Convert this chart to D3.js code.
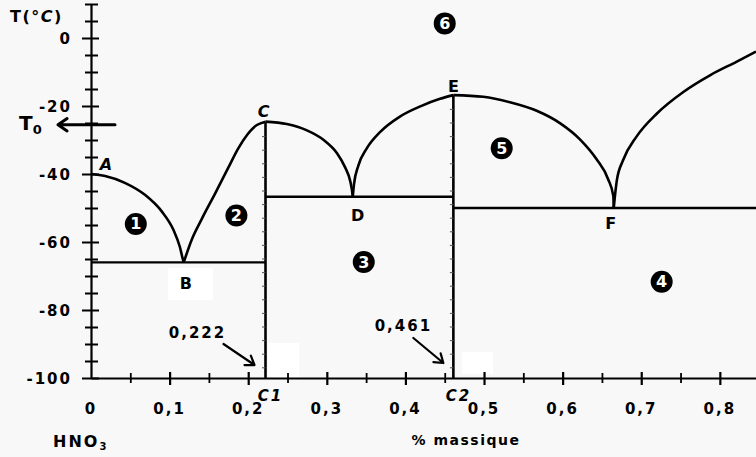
<!DOCTYPE html>
<html>
<head>
<meta charset="utf-8">
<script src="https://cdn.jsdelivr.net/npm/d3@7"></script>
<style>
  html, body { margin: 0; padding: 0; background: #f8f8f8; }
  svg { display: block; }
  text { font-family: "DejaVu Sans", sans-serif; font-weight: bold; fill: #000; }
</style>
</head>
<body>
<svg id="chart" width="756" height="457"></svg>
<script>
// Phase diagram HNO3 – H2O : liquidus branches, eutectic plateaus, compounds C1 and C2

// axis ticks
const xTickValues = [0, 0.1, 0.2, 0.3, 0.4, 0.5, 0.6, 0.7, 0.8];
const xTickLabels = ["0", "0,1", "0,2", "0,3", "0,4", "0,5", "0,6", "0,7", "0,8"];
const yTickValues = [0, -20, -40, -60, -80, -100];
const yTickLabels = ["0", "-20", "-40", "-60", "-80", "-100"];

// liquidus branches [mass fraction, T in °C]
const branchAB = [[0, -40], [0.018, -40.6], [0.043, -42.6], [0.069, -46.2], [0.090, -51.0],
                  [0.105, -56.5], [0.113, -61.4], [0.117, -65.2], [0.118, -66]];
const branchBC = [[0.118, -66], [0.120, -64.6], [0.128, -59.4], [0.141, -53.2], [0.158, -45.7],
                  [0.175, -38.0], [0.187, -32.6], [0.199, -28.4], [0.211, -25.6], [0.222, -24.6]];
const branchCD = [[0.222, -24.6], [0.249, -25.3], [0.274, -27.1], [0.296, -30.0], [0.313, -33.9],
                  [0.323, -37.9], [0.330, -42.3], [0.3325, -45.6], [0.333, -46.7]];
const branchDE = [[0.333, -46.7], [0.3346, -43.0], [0.340, -37.6], [0.351, -32.4], [0.368, -27.6],
                  [0.393, -23.1], [0.419, -20.1], [0.444, -17.9], [0.461, -16.8]];
const branchEF = [[0.461, -16.8], [0.499, -17.3], [0.533, -18.9], [0.567, -21.4], [0.597, -25.1],
                  [0.622, -29.8], [0.643, -35.6], [0.658, -41.6], [0.6645, -46.5], [0.665, -50]];
const branchFG = [[0.665, -50], [0.669, -41.8], [0.677, -35.9], [0.694, -29.0], [0.720, -22.2],
                  [0.754, -15.8], [0.788, -10.9], [0.821, -7.0], [0.846, -4.0]];

// eutectic plateaus [x start, x end, T]
const plateaus = [[0, 0.222, -66], [0.222, 0.461, -46.7], [0.461, 0.846, -50]];

// defined compounds [name, composition, melting point]
const compounds = [["C1", 0.222, -24.6], ["C2", 0.461, -16.8]];
const compoundValues = ["0,222", "0,461"];

// remarkable points [label, x, T]
const points = [["A", 0, -40], ["B", 0.118, -66], ["C", 0.222, -24.6],
                ["D", 0.333, -46.7], ["E", 0.461, -16.8], ["F", 0.665, -50]];

// region numbers [n, x, T]
const regions = [[1, 0.057, -54.7], [2, 0.185, -52.2], [3, 0.347, -65.9],
                 [4, 0.726, -71.7], [5, 0.5225, -32.4], [6, 0.450, 4.3]];

// temperature marked T0
const T0 = -25.5;

const svg = d3.select("#chart");
const x = d3.scaleLinear().domain([0, 0.846]).range([91, 756]);
const y = d3.scaleLinear().domain([-100, 10]).range([378, 4]);

// light erased patches of the background
[[168, 268, 45, 32], [268, 343, 31, 35], [462, 352, 31, 22]].forEach(r =>
  svg.append("rect").attr("x", r[0]).attr("y", r[1]).attr("width", r[2]).attr("height", r[3])
     .attr("fill", "#ffffff"));

// ---- axes ----
const yAxis = d3.axisLeft(y).tickValues(d3.range(-100, 10.01, 5)).tickSize(0).tickFormat("");
const gy = svg.append("g").attr("transform", `translate(${x(0)},0)`).call(yAxis);
gy.select(".domain").attr("stroke", "#000").attr("stroke-width", 2.2);
gy.selectAll(".tick").append("line")
  .attr("x1", d => d % 20 === 0 ? -9 : -6)
  .attr("x2", d => d % 20 === 0 ? 8 : 7)
  .attr("stroke", "#000").attr("stroke-width", 2);

const xAxis = d3.axisBottom(x).tickValues(d3.range(0.05, 0.846, 0.05)).tickSize(0).tickFormat("");
const gx = svg.append("g").attr("transform", `translate(0,${y(-100)})`).call(xAxis);
gx.select(".domain").attr("stroke", "#000").attr("stroke-width", 2.2);
gx.selectAll(".tick").append("line")
  .attr("y1", (d, i) => i % 2 === 1 ? -6 : -5)
  .attr("y2", (d, i) => i % 2 === 1 ? 7 : 5)
  .attr("stroke", "#000").attr("stroke-width", (d, i) => i % 2 === 1 ? 2.2 : 1.8);

// tick labels
svg.append("g").selectAll("text").data(xTickValues).join("text")
  .attr("x", d => x(d)).attr("y", y(-100) + 36)
  .attr("text-anchor", "middle").attr("font-size", 15).attr("letter-spacing", 2)
  .text((d, i) => xTickLabels[i]);
svg.append("g").selectAll("text").data(yTickValues).join("text")
  .attr("x", x(0) - 19).attr("y", d => y(d) + 6)
  .attr("text-anchor", "end").attr("font-size", 15).attr("letter-spacing", 2)
  .text((d, i) => yTickLabels[i]);

// axis titles
const tTitle = svg.append("text").attr("x", 10).attr("y", 22).attr("font-size", 16).attr("letter-spacing", 1.5);
tTitle.append("tspan").text("T(°");
tTitle.append("tspan").attr("font-style", "italic").text("C");
tTitle.append("tspan").text(")");

const hno3 = svg.append("text").attr("x", 53).attr("y", 447).attr("font-size", 16).attr("letter-spacing", 2);
hno3.append("tspan").text("HNO");
hno3.append("tspan").attr("font-size", 10).attr("dy", 3).text("3");

svg.append("text").attr("x", 466).attr("y", 445).attr("text-anchor", "middle")
  .attr("font-size", 14).attr("letter-spacing", 1.5).text("% massique");

// ---- plateaus ----
svg.append("g").selectAll("line").data(plateaus).join("line")
  .attr("x1", d => x(d[0])).attr("x2", d => x(d[1]))
  .attr("y1", d => y(d[2])).attr("y2", d => y(d[2]))
  .attr("stroke", "#000").attr("stroke-width", 2.4);

// ---- compounds: vertical lines with small graduations ----
compounds.forEach(c => {
  svg.append("line").attr("x1", x(c[1])).attr("x2", x(c[1]))
    .attr("y1", y(c[2])).attr("y2", y(-100))
    .attr("stroke", "#000").attr("stroke-width", 2.6);
  svg.append("g").selectAll("line").data(d3.range(-97, c[2], 4)).join("line")
    .attr("x1", x(c[1]) - 3.5).attr("x2", x(c[1]))
    .attr("y1", d => y(d)).attr("y2", d => y(d))
    .attr("stroke", "#555").attr("stroke-width", 1);
  svg.append("text").attr("x", x(c[1]) + 5).attr("y", y(-100) + 23)
    .attr("text-anchor", "middle").attr("font-size", 15).attr("font-style", "italic")
    .attr("letter-spacing", 2).text(c[0]);
});

// ---- liquidus ----
const line = d3.line().x(d => x(d[0])).y(d => y(d[1])).curve(d3.curveMonotoneX);
[branchAB, branchBC, branchCD, branchDE, branchEF, branchFG].forEach(b =>
  svg.append("path").attr("d", line(b)).attr("fill", "none")
     .attr("stroke", "#000").attr("stroke-width", 2.6).attr("stroke-linejoin", "round"));

// ---- point labels ----
const pointOffsets = { A: [15, -4], B: [2, 27], C: [-2, -5], D: [5, 24], E: [0, -3], F: [-3, 21] };
svg.append("g").selectAll("text").data(points).join("text")
  .attr("x", d => x(d[1]) + pointOffsets[d[0]][0])
  .attr("y", d => y(d[2]) + pointOffsets[d[0]][1])
  .attr("text-anchor", "middle").attr("font-size", 16)
  .attr("font-style", d => (d[0] === "A" || d[0] === "C") ? "italic" : "normal")
  .text(d => d[0]);

// ---- region numbers ----
const rg = svg.append("g").selectAll("g").data(regions).join("g")
  .attr("transform", d => `translate(${x(d[1])},${y(d[2])})`);
rg.append("circle").attr("r", 11).attr("fill", "#000");
rg.append("text").attr("y", 5.5).attr("text-anchor", "middle")
  .attr("font-family", "Liberation Serif, serif").attr("font-weight", "normal")
  .attr("font-size", 16).style("fill", "#fff").text(d => d[0]);

// ---- composition call-outs with arrows ----
function arrow(x1, y1, x2, y2, head, width) {
  const a = Math.atan2(y2 - y1, x2 - x1);
  const p = d3.path();
  p.moveTo(x1, y1); p.lineTo(x2, y2);
  p.moveTo(x2 - head * Math.cos(a - 0.6), y2 - head * Math.sin(a - 0.6));
  p.lineTo(x2, y2);
  p.lineTo(x2 - head * Math.cos(a + 0.6), y2 - head * Math.sin(a + 0.6));
  svg.append("path").attr("d", p.toString()).attr("fill", "none")
    .attr("stroke", "#000").attr("stroke-width", width)
    .attr("stroke-linecap", "round").attr("stroke-linejoin", "round");
}
const callouts = [[-68, -40, -42, -34, -11, -13], [-50, -47, -40, -40, -10, -15]];
compounds.forEach((c, i) => {
  const o = callouts[i], cx = x(c[1]), cy = y(-100);
  svg.append("text").attr("x", cx + o[0]).attr("y", cy + o[1])
    .attr("text-anchor", "middle").attr("font-size", 15).attr("letter-spacing", 2)
    .text(compoundValues[i]);
  arrow(cx + o[2], cy + o[3], cx + o[4], cy + o[5], 10, 2.2);
});

// ---- T0 marker ----
arrow(x(0) + 24, y(T0), x(0) - 33, y(T0), 11, 3);
const t0 = svg.append("text").attr("x", 19).attr("y", y(T0) + 5).attr("font-size", 20);
t0.append("tspan").text("T");
t0.append("tspan").attr("font-size", 13).attr("dy", 4).text("0");
</script>
</body>
</html>
